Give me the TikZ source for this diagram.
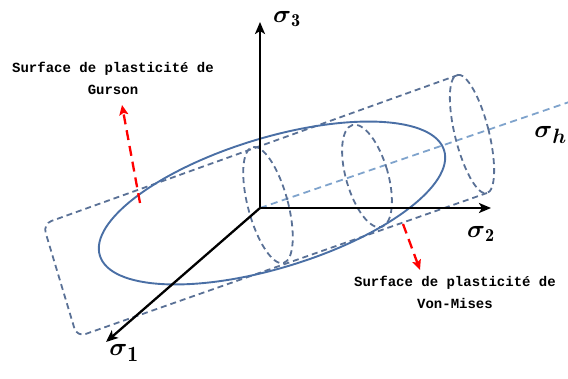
\documentclass[tikz,border=0pt]{standalone}
\usepackage{amsmath}
\usepackage{fontspec}
\newfontfamily\notefont{Liberation Mono}
\usetikzlibrary{arrows.meta,positioning}
\definecolor{steel}{HTML}{4A6FA5}
\definecolor{slate}{HTML}{5A7196}
\definecolor{skyline}{HTML}{7FA3CC}

\begin{document}
\begin{tikzpicture}[x=1pt, y=-1pt,
  axis/.style={-{Stealth[length=12pt, width=10pt, inset=3pt]}, line width=2.3pt},
  hidden/.style={draw=slate, line width=1.8pt, dash pattern=on 6pt off 4pt},
  haxis/.style={draw=skyline, line width=1.8pt, dash pattern=on 7pt off 4.5pt},
  surface/.style={draw=steel, line width=1.9pt},
  pointer/.style={-{Stealth[length=10pt, width=9pt, inset=2pt]}, draw=red, line width=2.3pt, dash pattern=on 10pt off 6pt},
  note/.style={font=\notefont\bfseries\fontsize{14}{22}\selectfont, align=center, inner sep=0pt},
  biglabel/.style={font=\fontsize{31}{31}\selectfont, inner sep=0pt},
  smalllabel/.style={font=\fontsize{26}{26}\selectfont, inner sep=0pt}
]
\useasboundingbox (0,0) rectangle (568,378);

% axes points
\coordinate (O) at (260,208);
\coordinate (s1tip) at (106,342);
\coordinate (s2tip) at (491,208);
\coordinate (s3tip) at (260,22);
\coordinate (shend) at (575,100);

% von Mises cylinder
\draw[haxis] (O) -- (shend);
\draw[hidden, rounded corners=9pt] (458,75) -- (43,224) -- (77,337) -- (487,193);
\draw[hidden] (472,134) ellipse [x radius=17pt, y radius=61pt, rotate=14];
\draw[hidden] (268,205) ellipse [x radius=20pt, y radius=60pt, rotate=15];
\draw[hidden] (367,176) ellipse [x radius=21pt, y radius=53pt, rotate=16];

% Gurson surface
\draw[surface] (272,203) ellipse [x radius=180pt, y radius=65pt, rotate=17];

% axes
\foreach \t in {s1tip,s2tip,s3tip}
  \draw[axis] (O) -- (\t);
\node[biglabel] (s1) at (124,353) {$\boldsymbol{\sigma}_{\mathbf{1}}$};
\node[smalllabel] (s2) at (481,234) {$\boldsymbol{\sigma}_{\mathbf{2}}$};
\node[smalllabel] (s3) at (287,19) {$\boldsymbol{\sigma}_{\mathbf{3}}$};
\node[biglabel, anchor=east] (sh) at (567,135) {$\boldsymbol{\sigma}_{\boldsymbol{h}}$};

% notes
\node[note] (gursonnote) at (113,78) {Surface de plasticité de\\Gurson};
\node[note] (misesnote) at (455,292) {Surface de plasticité de\\Von-Mises};
\coordinate (gursonfoot) at (140,203);
\coordinate (gursontip) at (122,105);
\coordinate (misesfoot) at (403,224);
\coordinate (misestip) at (420,270);
\draw[pointer] (gursonfoot) -- (gursontip);
\draw[pointer] (misesfoot) -- (misestip);
\end{tikzpicture}
\end{document}
